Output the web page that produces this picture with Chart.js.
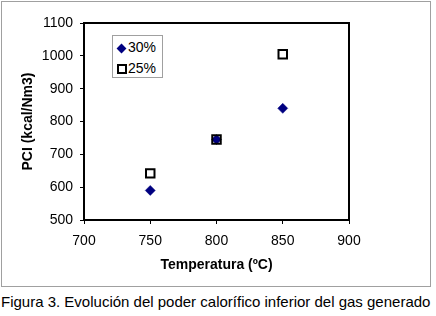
<!DOCTYPE html>
<html lang="es">
<head>
  <meta charset="UTF-8" />
  <title>PCI vs Temperatura</title>
  <script src="https://cdn.jsdelivr.net/npm/chart.js"></script>
  <style>
    html, body {
      margin: 0;
      padding: 0;
      background: #fff;
      width: 436px;
      height: 316px;
      overflow: hidden;
      font-family: 'Liberation Sans', Arial, sans-serif;
    }
    .frame {
      position: absolute;
      left: 1px;
      top: 1px;
      width: 430px;
      height: 286px;
      box-sizing: border-box;
      border: 1px solid #a0a0a0;
    }
    .chart-box {
      position: absolute;
      left: 0;
      top: 0;
      width: 436px;
      height: 290px;
    }
    .legend {
      position: absolute;
      left: 112px;
      top: 35px;
      width: 51px;
      height: 43px;
      box-sizing: border-box;
      border: 1px solid #a0a0a0;
      background: #fff;
      font-size: 14px;
      color: #000;
    }
    .legend .item {
      position: absolute;
      left: 4px;
      height: 16px;
      line-height: 16px;
      white-space: nowrap;
    }
    .legend .mark {
      display: inline-block;
      width: 7px;
      height: 7px;
      vertical-align: middle;
      margin-left: 1px;
      margin-right: 3px;
      box-sizing: border-box;
    }
    .legend .diamond {
      background: #000080;
      transform: rotate(45deg);
    }
    .legend .square {
      border: 2px solid #000;
      width: 10px;
      height: 10px;
      margin-left: 0;
      margin-right: 1px;
    }
    .caption {
      position: absolute;
      left: 1px;
      top: 293px;
      font-size: 15px;
      color: #000;
      white-space: nowrap;
    }
  </style>
</head>
<body>
  <div class="frame"></div>
  <div class="chart-box"><canvas id="pciChart" width="436" height="290"></canvas></div>
  <div class="legend" id="legend"></div>
  <div class="caption">Figura 3. Evolución del poder calorífico inferior del gas generado</div>

  <script>
    // datos
    const temperaturas = [750, 800, 850];
    const pci30 = [590, 745, 840];
    const pci25 = [642, 745, 1005];
    const seriesLabels = ["30%", "25%"];
    const xTicks = [700, 750, 800, 850, 900];
    const yTicks = [500, 600, 700, 800, 900, 1000, 1100];

    const font = { family: "'Liberation Sans', Arial, sans-serif", size: 14 };
    const boldFont = { family: "'Liberation Sans', Arial, sans-serif", size: 14, weight: "bold" };

    // marco negro alrededor del area del grafico
    const plotFrame = {
      id: "plotFrame",
      afterDraw(chart) {
        const { ctx, chartArea: a } = chart;
        ctx.save();
        ctx.strokeStyle = "#000";
        ctx.lineWidth = 2;
        ctx.strokeRect(a.left, a.top, a.right - a.left, a.bottom - a.top);
        ctx.restore();
      }
    };

    const ctx = document.getElementById("pciChart").getContext("2d");
    new Chart(ctx, {
      type: "scatter",
      data: {
        datasets: [
          {
            // el cuadrado se dibuja encima
            label: seriesLabels[1],
            data: temperaturas.map((t, i) => ({ x: t, y: pci25[i] })),
            pointStyle: "rect",
            pointRadius: 6,
            pointHoverRadius: 6,
            backgroundColor: "rgba(0,0,0,0)",
            borderColor: "#000",
            borderWidth: 2
          },
          {
            label: seriesLabels[0],
            data: temperaturas.map((t, i) => ({ x: t, y: pci30[i] })),
            pointStyle: "rectRot",
            pointRadius: 5,
            pointHoverRadius: 5,
            backgroundColor: "#000080",
            borderColor: "#000080",
            borderWidth: 0.5
          }
        ]
      },
      options: {
        responsive: false,
        animation: false,
        layout: { padding: { top: 23, right: 87, bottom: 0, left: 0 } },
        plugins: {
          legend: { display: false },
          tooltip: { enabled: false }
        },
        scales: {
          x: {
            type: "linear",
            min: 700,
            max: 900,
            afterBuildTicks: s => { s.ticks = xTicks.map(v => ({ value: v })); },
            afterFit: s => { s.height = 70; },
            ticks: { color: "#000", font: font, padding: 9, maxRotation: 0, callback: v => String(v) },
            grid: { drawOnChartArea: false, drawTicks: true, tickLength: 4, color: "#000", lineWidth: 1 },
            border: { color: "#000", width: 2 },
            title: { display: true, text: "Temperatura (ºC)", color: "#000", font: boldFont, padding: { top: 0, bottom: 16.5 } }
          },
          y: {
            type: "linear",
            min: 500,
            max: 1100,
            afterBuildTicks: s => { s.ticks = yTicks.map(v => ({ value: v })); },
            afterFit: s => { s.width = 84; },
            ticks: { color: "#000", font: font, padding: 7, callback: v => String(v) },
            grid: { drawOnChartArea: false, drawTicks: true, tickLength: 4, color: "#000", lineWidth: 1 },
            border: { color: "#000", width: 2 },
            title: { display: true, text: "PCI (kcal/Nm3)", color: "#000", font: boldFont, padding: { top: 19.5, bottom: 0 } }
          }
        }
      },
      plugins: [plotFrame]
    });

    // leyenda dentro del area del grafico
    const legend = document.getElementById("legend");
    const marks = ["diamond", "square"];
    seriesLabels.forEach((lab, i) => {
      const item = document.createElement("div");
      item.className = "item";
      item.style.top = (3 + i * 21) + "px";
      item.innerHTML = '<span class="mark ' + marks[i] + '"></span>' + lab;
      legend.appendChild(item);
    });
  </script>
</body>
</html>
